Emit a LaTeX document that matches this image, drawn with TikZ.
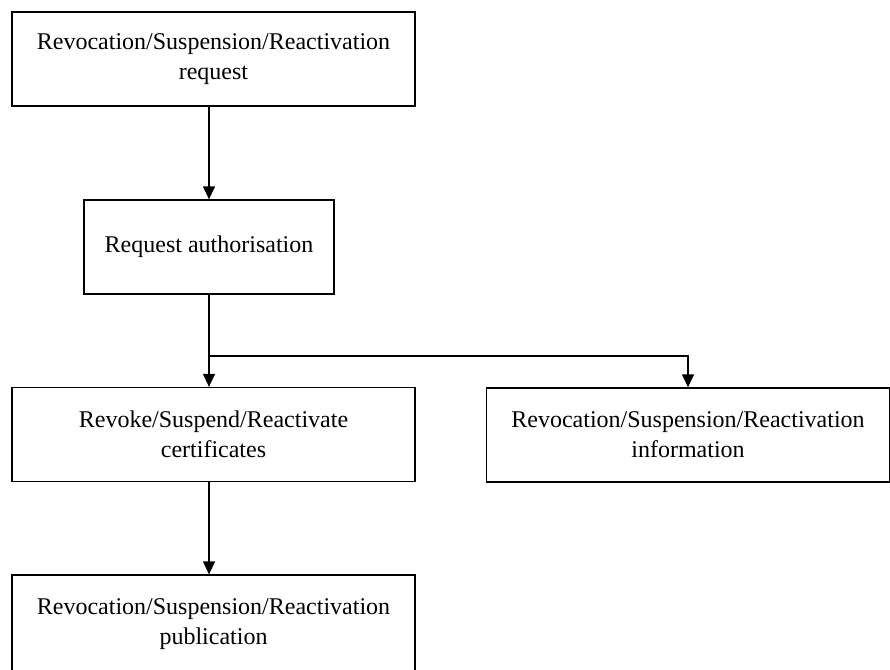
\documentclass[tikz,border=0pt]{standalone}
\usepackage{fontspec}
\setmainfont{Liberation Serif}
\usetikzlibrary{arrows.meta}
\begin{document}
\begin{tikzpicture}[x=1pt,y=-1pt,
  box/.style={draw=black,line width=1.3pt,rectangle,align=center,inner sep=0pt,
    font=\fontsize{24}{30}\selectfont,minimum height=94pt},
  wide/.style={box,minimum width=403pt},
  conn/.style={draw=black,line width=1.3pt},
  arr/.style={conn,-{Triangle[width=12pt,length=13pt]}}]
\useasboundingbox (0,0) rectangle (890,669);
\node[wide] (b1) at (213.5,59) {Revocation/Suspension/Reactivation\\request};
\node[box,minimum width=250pt] (b2) at (209,247) {Request authorisation};
\node[wide] (b3) at (213.5,434.5) {Revoke/Suspend/Reactivate\\certificates};
\node[wide] (b4) at (688,435) {Revocation/Suspension/Reactivation\\information};
\node[wide,minimum height=100pt] (b5) at (213.5,625) {Revocation/Suspension/Reactivation\\publication\rule[-6pt]{0pt}{0pt}};
\coordinate (j) at (209,356);
\draw[arr] (b1.south -| b2.north) -- (b2.north);
\draw[arr] (b2.south) -- (b3.north -| b2.south);
\draw[arr] (j) -| (b4.north);
\draw[arr] (b3.south -| b2.south) -- (b5.north -| b2.south);
\end{tikzpicture}
\end{document}
